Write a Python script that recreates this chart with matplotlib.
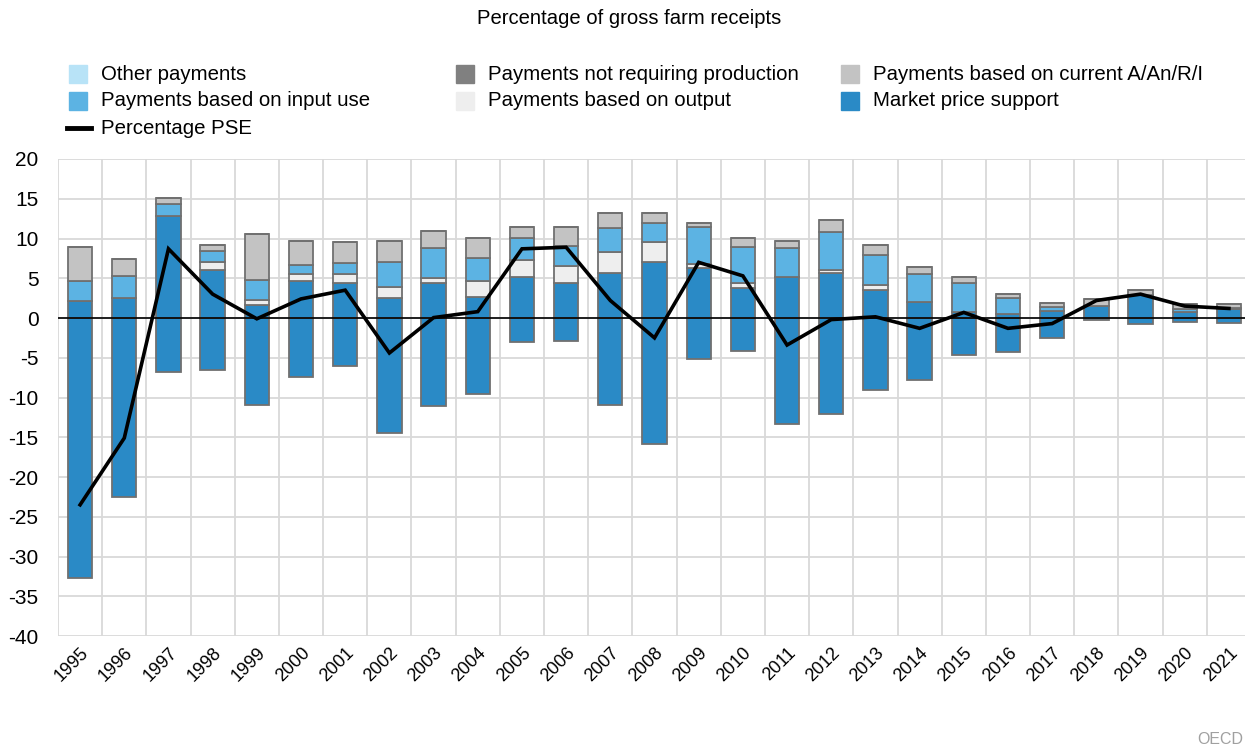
import matplotlib
matplotlib.use("Agg")
import matplotlib.pyplot as plt
from matplotlib.lines import Line2D
import numpy as np

plt.rcParams['font.family'] = ['Liberation Sans', 'DejaVu Sans']

years = [str(y) for y in range(1995, 2022)]

mps_pos = [2.1, 2.5, 12.8, 6.1, 1.6, 4.7, 4.4, 2.5, 4.4, 2.6, 5.2, 4.4, 5.7, 7.1,
           6.25, 3.8, 5.2, 5.7, 3.5, 2.0, 0.8, 0.5, 0.9, 1.55, 2.9, 0.8, 1.1]
mps_neg = [-32.7, -22.5, -6.75, -6.5, -10.9, -7.4, -6.0, -14.5, -11.1, -9.5, -3.0,
           -2.85, -11.0, -15.9, -5.1, -4.15, -13.3, -12.1, -9.1, -7.8, -4.65, -4.3,
           -2.5, -0.25, -0.7, -0.55, -0.6]
output_pay = [0.0, 0.0, 0.0, 0.9, 0.7, 0.8, 1.1, 1.4, 0.6, 2.0, 2.1, 2.1, 2.6, 2.4,
              0.6, 0.6, 0.0, 0.4, 0.6, 0.0, 0.0, 0.0, 0.0, 0.0, 0.0, 0.0, 0.0]
input_pay = [2.6, 2.8, 1.5, 1.4, 2.5, 1.2, 1.4, 3.2, 3.8, 3.0, 2.8, 2.5, 3.0, 2.5,
             4.6, 4.5, 3.6, 4.7, 3.8, 3.5, 3.6, 2.0, 0.5, 0.0, 0.0, 0.3, 0.1]
other_pay = [0.0] * 27
current_pay = [4.2, 2.1, 0.8, 0.8, 5.8, 3.0, 2.6, 2.6, 2.2, 2.5, 1.4, 2.5, 1.9, 1.2,
               0.5, 1.2, 0.9, 1.5, 1.3, 0.95, 0.7, 0.5, 0.45, 0.85, 0.6, 0.65, 0.5]
not_req_pay = [0.0] * 27
pse = [-23.5, -15.1, 8.7, 3.0, -0.1, 2.4, 3.5, -4.4, 0.05, 0.8, 8.7, 8.9, 2.2,
       -2.5, 7.0, 5.3, -3.4, -0.2, 0.15, -1.3, 0.7, -1.3, -0.7, 2.2, 3.0, 1.5, 1.2]

c_mps = '#2a8ac6'
c_input = '#5cb3e3'
c_output = '#eeeeee'
c_other = '#b8e3f7'
c_current = '#c3c3c3'
c_notreq = '#808080'
edge = '#707070'

W, H = 1245, 751
fig = plt.figure(figsize=(W / 100, H / 100), dpi=100)
ax = fig.add_axes([58 / W, 1 - 636 / H, (1251 - 58) / W, (636 - 159) / H])

x = np.arange(len(years))
bw = 0.55
kw = dict(width=bw, edgecolor=edge, linewidth=1.3, zorder=3)

ax.bar(x, mps_neg, color=c_mps, **kw)
bottom = np.zeros(len(years))
for vals, col in [(mps_pos, c_mps), (output_pay, c_output), (input_pay, c_input),
                  (other_pay, c_other), (current_pay, c_current), (not_req_pay, c_notreq)]:
    v = np.array(vals)
    ax.bar(x, v, bottom=bottom, color=col, **kw)
    bottom += v

ax.axhline(0, color='black', linewidth=1.2, zorder=4)
ax.plot(x, pse, color='black', linewidth=2.6, zorder=5, solid_joinstyle='miter')

ax.set_xlim(-0.5, len(years) - 0.5)
ax.set_ylim(-40, 20)
ax.set_yticks(np.arange(-40, 21, 5))
ax.set_yticklabels([str(v) for v in range(-40, 21, 5)], fontsize=15)
ax.set_xticks(x)
ax.set_xticklabels(years, rotation=45, ha='right', rotation_mode='anchor', fontsize=13)
ax.set_xticks(np.arange(-0.5, len(years), 1), minor=True)
ax.tick_params(axis='both', which='both', length=0)
ax.tick_params(axis='y', pad=14)
ax.tick_params(axis='x', pad=6)
ax.grid(True, axis='y', which='major', color='#d9d9d9', linewidth=1.3, zorder=0)
ax.grid(True, axis='x', which='minor', color='#d9d9d9', linewidth=1.3, zorder=0)
ax.grid(False, axis='x', which='major')
for s in ax.spines.values():
    s.set_visible(False)

fig.text(629 / W, 1 - 18 / H, 'Percentage of gross farm receipts', ha='center', va='center',
         fontsize=14.6)

legend_items = [
    (78, 74, c_other, 'Other payments'),
    (465, 74, c_notreq, 'Payments not requiring production'),
    (850, 74, c_current, 'Payments based on current A/An/R/I'),
    (78, 101, c_input, 'Payments based on input use'),
    (465, 101, c_output, 'Payments based on output'),
    (850, 101, c_mps, 'Market price support'),
]
for mx, my, col, lab in legend_items:
    fig.add_artist(Line2D([mx / W], [1 - my / H], marker='s', markersize=13,
                          markerfacecolor=col, markeredgecolor=col, linestyle='none'))
    fig.text((mx + 23) / W, 1 - my / H, lab, ha='left', va='center', fontsize=14.7)
fig.add_artist(Line2D([67 / W, 91 / W], [1 - 128 / H, 1 - 128 / H], color='black', linewidth=3.5))
fig.text(101 / W, 1 - 128 / H, 'Percentage PSE', ha='left', va='center', fontsize=14.7)

fig.text(1243 / W, 1 - 740 / H, 'OECD', ha='right', va='center', fontsize=11.5, color='#a0a0a0')

fig.savefig('out.png', dpi=100)
